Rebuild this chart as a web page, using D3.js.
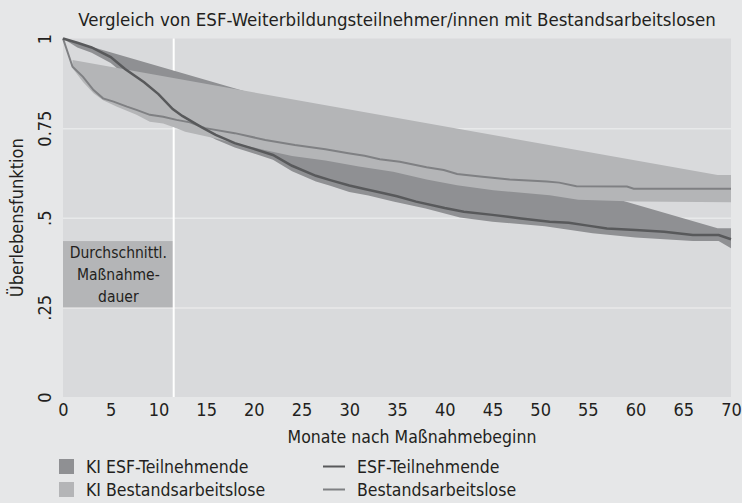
<!DOCTYPE html>
<html>
<head>
<meta charset="utf-8">
<script src="https://cdn.jsdelivr.net/npm/d3@7"></script>
<style>
  body { margin: 0; background: #e6e7e8; }
  text { font-family: "Liberation Sans Narrow", "DejaVu Sans Condensed", "Roboto Condensed", sans-serif; fill: #231f20; }
</style>
</head>
<body>
<script>
// Kaplan-Meier Überlebensfunktion, ESF vs Bestandsarbeitslose
let w = 742;
let h = 503;

let xTicks = [0, 5, 10, 15, 20, 25, 30, 35, 40, 45, 50, 55, 60, 65, 70];
let yTicks = [0, 0.25, 0.5, 0.75, 1];
let yTickLabels = ["0", ".25", ".5", "0.75", "1"];
let avgDuration = 11.6;

// ESF-Teilnehmende
let esfMonths = [0, 1.5, 3, 5, 6.5, 8.5, 10, 11.5, 12.5, 14.5, 16, 18, 20, 22, 24, 26.5, 28, 30, 31.6, 33.5, 35, 37, 40, 42, 45, 48, 51, 53, 55, 57, 60, 63, 66, 68.7, 70];
let esfValues = [1, 0.988, 0.975, 0.948, 0.915, 0.878, 0.845, 0.803, 0.784, 0.753, 0.731, 0.708, 0.692, 0.675, 0.645, 0.617, 0.605, 0.59, 0.58, 0.569, 0.56, 0.545, 0.527, 0.517, 0.508, 0.498, 0.489, 0.486, 0.478, 0.47, 0.466, 0.461, 0.452, 0.452, 0.44];

// Bestandsarbeitslose
let bestMonths = [0, 1, 2.1, 3.2, 4.2, 5.3, 6.7, 7.7, 9.1, 10.5, 11.9, 13.3, 14.9, 18, 21.2, 24.3, 27.5, 29.9, 31.6, 33.2, 35.3, 38.1, 39.9, 41.3, 43.7, 46.8, 50.7, 52, 53.8, 59.1, 59.8, 70];
let bestValues = [1, 0.921, 0.893, 0.856, 0.833, 0.824, 0.81, 0.801, 0.787, 0.782, 0.773, 0.766, 0.75, 0.736, 0.717, 0.703, 0.691, 0.68, 0.673, 0.663, 0.656, 0.641, 0.633, 0.622, 0.615, 0.607, 0.601, 0.598, 0.588, 0.587, 0.581, 0.581];

// KI ESF-Teilnehmende
let kiEsfUpperMonths = [0, 68.6, 70];
let kiEsfUpper = [1, 0.471, 0.471];
let kiEsfLowerMonths = [0, 1.5, 3, 5, 6.5, 8.5, 10, 11.5, 12.5, 14.5, 16, 18, 20, 22, 24, 26.5, 28, 30, 32, 34.6, 38, 41.6, 45, 50.5, 55.5, 60, 66, 68.7, 70];
let kiEsfLower = [1, 0.975, 0.96, 0.932, 0.898, 0.862, 0.828, 0.787, 0.769, 0.74, 0.718, 0.696, 0.679, 0.662, 0.63, 0.601, 0.589, 0.572, 0.562, 0.545, 0.526, 0.501, 0.489, 0.476, 0.457, 0.445, 0.435, 0.435, 0.415];

// KI Bestandsarbeitslose
let kiBestUpperMonths = [1, 68.6, 70];
let kiBestUpper = [0.94, 0.619, 0.619];
let kiBestLowerMonths = [1, 2.1, 3.2, 4.2, 5.6, 7.7, 9.1, 10.5, 11.9, 12.8, 15.9, 18, 21, 24, 27.5, 31, 34.6, 38.1, 41.3, 45.1, 51, 54, 60, 70];
let kiBestLower = [0.917, 0.879, 0.847, 0.828, 0.81, 0.787, 0.768, 0.763, 0.75, 0.74, 0.722, 0.708, 0.69, 0.672, 0.66, 0.643, 0.628, 0.607, 0.591, 0.577, 0.563, 0.55, 0.545, 0.543];

let svg = d3.select('body').append('svg')
    .attr('width', w)
    .attr('height', h);

let x = d3.scaleLinear().domain([0, 70]).range([63, 731]);
let y = d3.scaleLinear().domain([0, 1]).range([397, 38.5]);

// plot area
svg.append('rect')
    .attr('x', x(0)).attr('y', y(1))
    .attr('width', x(70) - x(0)).attr('height', y(0) - y(1))
    .attr('fill', '#d9dadc');

// grid
svg.append('g')
    .attr('transform', `translate(${x(0)},0)`)
    .call(d3.axisLeft(y).tickValues([0.25, 0.5, 0.75]).tickSize(-(x(70) - x(0))).tickFormat(''))
    .call(g => g.select('.domain').remove())
    .selectAll('line').attr('stroke', '#e8e9ea').attr('stroke-width', 1.5);

// avg duration box + line
svg.append('rect')
    .attr('x', x(0)).attr('y', y(0.435))
    .attr('width', x(avgDuration) - x(0)).attr('height', y(0.25) - y(0.435))
    .attr('fill', '#b4b5b7');

svg.append('line')
    .attr('x1', x(avgDuration)).attr('x2', x(avgDuration))
    .attr('y1', y(1)).attr('y2', y(0))
    .attr('stroke', '#ffffff').attr('stroke-width', 2);

let boxText = ['Durchschnittl.', 'Maßnahme-', 'dauer'];
svg.append('g').selectAll('text')
    .data(boxText)
    .enter()
    .append('text')
    .attr('x', (x(0) + x(avgDuration)) / 2)
    .attr('y', (d, i) => y(0.435) + 17 + i * 22)
    .attr('text-anchor', 'middle')
    .attr('font-size', 15.5)
    .text(d => d);

function band(um, uv, lm, lv) {
    let pts = um.map((m, i) => [x(m), y(uv[i])]);
    let low = lm.map((m, i) => [x(m), y(lv[i])]).reverse();
    return d3.line()(pts.concat(low)) + 'Z';
}

svg.append('path')
    .attr('d', band(kiEsfUpperMonths, kiEsfUpper, kiEsfLowerMonths, kiEsfLower))
    .attr('fill', '#8f9093');

svg.append('path')
    .attr('d', band(kiBestUpperMonths, kiBestUpper, kiBestLowerMonths, kiBestLower))
    .attr('fill', '#b4b5b7');

let line = d3.line().x(d => x(d[0])).y(d => y(d[1]));

svg.append('path')
    .datum(bestMonths.map((m, i) => [m, bestValues[i]]))
    .attr('d', line)
    .attr('fill', 'none')
    .attr('stroke', '#7f8083')
    .attr('stroke-width', 2);

svg.append('path')
    .datum(esfMonths.map((m, i) => [m, esfValues[i]]))
    .attr('d', line)
    .attr('fill', 'none')
    .attr('stroke', '#58595b')
    .attr('stroke-width', 2.5);

// axes
let xAxis = svg.append('g')
    .attr('transform', `translate(0,${y(0)})`)
    .call(d3.axisBottom(x).tickValues(xTicks).tickSize(0).tickPadding(6));
xAxis.select('.domain').remove();
xAxis.selectAll('text').attr('font-size', 18).attr('fill', '#231f20');

let yAxis = svg.append('g')
    .attr('transform', `translate(${x(0)},0)`)
    .call(d3.axisLeft(y).tickValues(yTicks).tickSize(0).tickFormat((d, i) => yTickLabels[i]));
yAxis.select('.domain').remove();
yAxis.selectAll('text')
    .attr('font-size', 18)
    .attr('fill', '#231f20')
    .attr('x', 0).attr('dy', 0)
    .attr('text-anchor', 'middle')
    .attr('transform', d => `translate(-12,0) rotate(-90)`);

svg.append('text')
    .attr('x', 397).attr('y', 26)
    .attr('text-anchor', 'middle')
    .attr('font-size', 18.5)
    .text('Vergleich von ESF-Weiterbildungsteilnehmer/innen mit Bestandsarbeitslosen');

svg.append('text')
    .attr('x', 412).attr('y', 443)
    .attr('text-anchor', 'middle')
    .attr('font-size', 17.5)
    .text('Monate nach Maßnahmebeginn');

svg.append('text')
    .attr('transform', `translate(23,${y(0.5)}) rotate(-90)`)
    .attr('text-anchor', 'middle')
    .attr('font-size', 18)
    .text('Überlebensfunktion');

// legend
let legendBoxes = [{label: 'KI ESF-Teilnehmende', color: '#8f9093'}, {label: 'KI Bestandsarbeitslose', color: '#b4b5b7'}];
let legendLines = [{label: 'ESF-Teilnehmende', color: '#58595b'}, {label: 'Bestandsarbeitslose', color: '#7f8083'}];

legendBoxes.forEach((d, i) => {
    svg.append('rect').attr('x', 59).attr('y', 459 + i * 23).attr('width', 15).attr('height', 15).attr('fill', d.color);
    svg.append('text').attr('x', 86).attr('y', 473 + i * 23).attr('font-size', 17.5).text(d.label);
});
legendLines.forEach((d, i) => {
    svg.append('line').attr('x1', 323).attr('x2', 345).attr('y1', 466.5 + i * 23).attr('y2', 466.5 + i * 23)
        .attr('stroke', d.color).attr('stroke-width', 2);
    svg.append('text').attr('x', 357).attr('y', 473 + i * 23).attr('font-size', 17.5).text(d.label);
});
</script>
</body>
</html>
